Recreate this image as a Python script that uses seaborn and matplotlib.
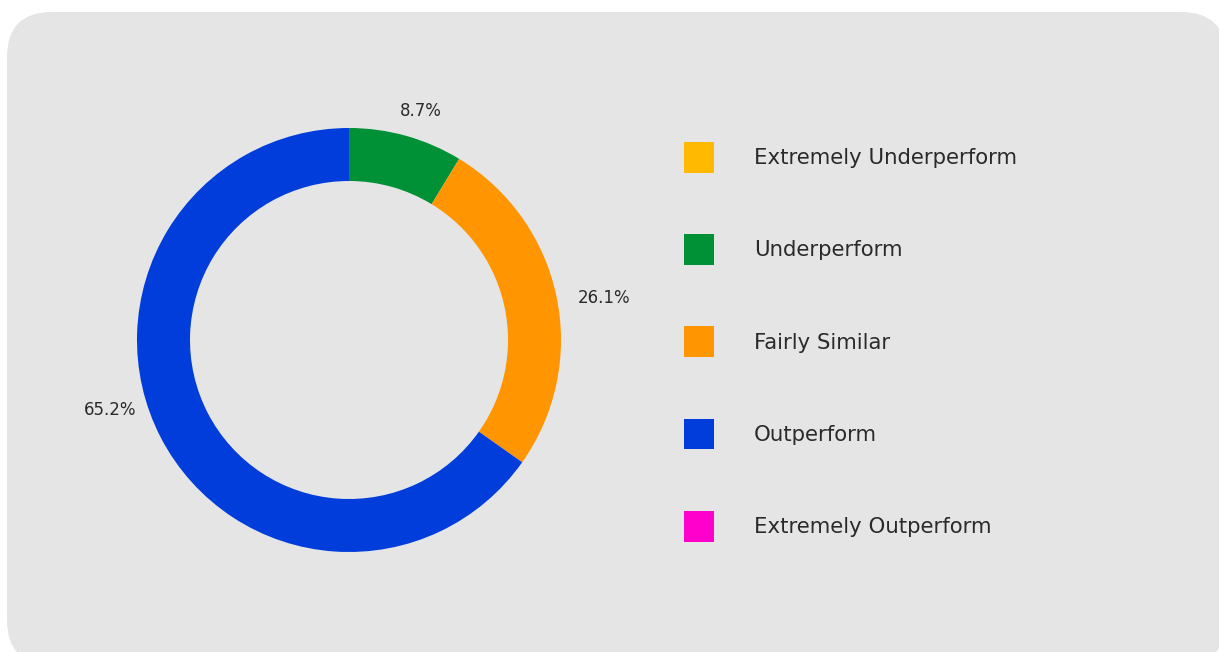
import numpy as np
import matplotlib
matplotlib.use("Agg")
import matplotlib.pyplot as plt
import seaborn as sns
from matplotlib.patches import FancyBboxPatch, Patch
from matplotlib.transforms import IdentityTransform

categories = ["Extremely Underperform", "Underperform", "Fairly Similar",
              "Outperform", "Extremely Outperform"]
counts = [0, 2, 6, 15, 0]
colors = ["#FFB900", "#009036", "#FF9500", "#003DDB", "#FF00CC"]

sns.set_theme(style="white")
plt.rcParams["font.family"] = ["DejaVu Sans"]

W, H, DPI = 1219, 652, 100
fig = plt.figure(figsize=(W / DPI, H / DPI), dpi=DPI, facecolor="white")

# rounded grey panel (pixel coordinates)
bg = FancyBboxPatch((7, -13), 1219, 653,
                    boxstyle="round,pad=0,rounding_size=45",
                    transform=IdentityTransform(), facecolor="#E5E5E5",
                    edgecolor="none", zorder=-10)
fig.patches.append(bg)

# pie axes: centre (349, 340 from top), radius 212 px, limits +-1.5
R = 212
size = 3 * R
cx, cy = 349, H - 340
ax = fig.add_axes([(cx - size / 2) / W, (cy - size / 2) / H, size / W, size / H])
ax.set_zorder(1)
ax.axis("off")
ax.patch.set_alpha(0)

vals = [v for v in counts if v > 0]
cols = [c for v, c in zip(counts, colors) if v > 0]
wedges, _ = ax.pie(vals, colors=cols, startangle=90, counterclock=False,
                   radius=1.0, wedgeprops=dict(width=0.25, edgecolor="none"),
                   frame=False)
ax.set_xlim(-1.5, 1.5)
ax.set_ylim(-1.5, 1.5)

# small pixel nudges of the outside labels (plotly-style placement)
label_nudges = [(-11, -3), (3, -5), (-7, 36)]

total = sum(vals)
cum = 0
for v, (ndx, ndy) in zip(vals, label_nudges):
    mid = (cum + v / 2) / total
    cum += v
    theta = np.deg2rad(90 - 360 * mid)
    x, y = np.cos(theta), np.sin(theta)
    r = 1.09
    ha = "left" if x > 0.15 else ("right" if x < -0.15 else "center")
    va = "bottom" if y > 0.7 else ("top" if y < -0.7 else "center")
    ax.annotate(f"{100 * v / total:.1f}%", xy=(r * x, r * y),
                xytext=(ndx, ndy), textcoords="offset pixels",
                ha=ha, va=va, fontsize=12, color="#2a2a2a")

handles = [Patch(facecolor=c, edgecolor="none") for c in colors]
leg = fig.legend(handles, categories, loc="upper left",
                 bbox_to_anchor=(684 / W, 1 - 142 / H), frameon=False,
                 fontsize=15.3, handlelength=1.41, handleheight=1.84,
                 handletextpad=1.88, labelspacing=2.9, borderpad=0,
                 borderaxespad=0)
leg.set_zorder(2)
for t in leg.get_texts():
    t.set_color("#2a2a2a")

fig.savefig("out.png", dpi=DPI, facecolor="white")
